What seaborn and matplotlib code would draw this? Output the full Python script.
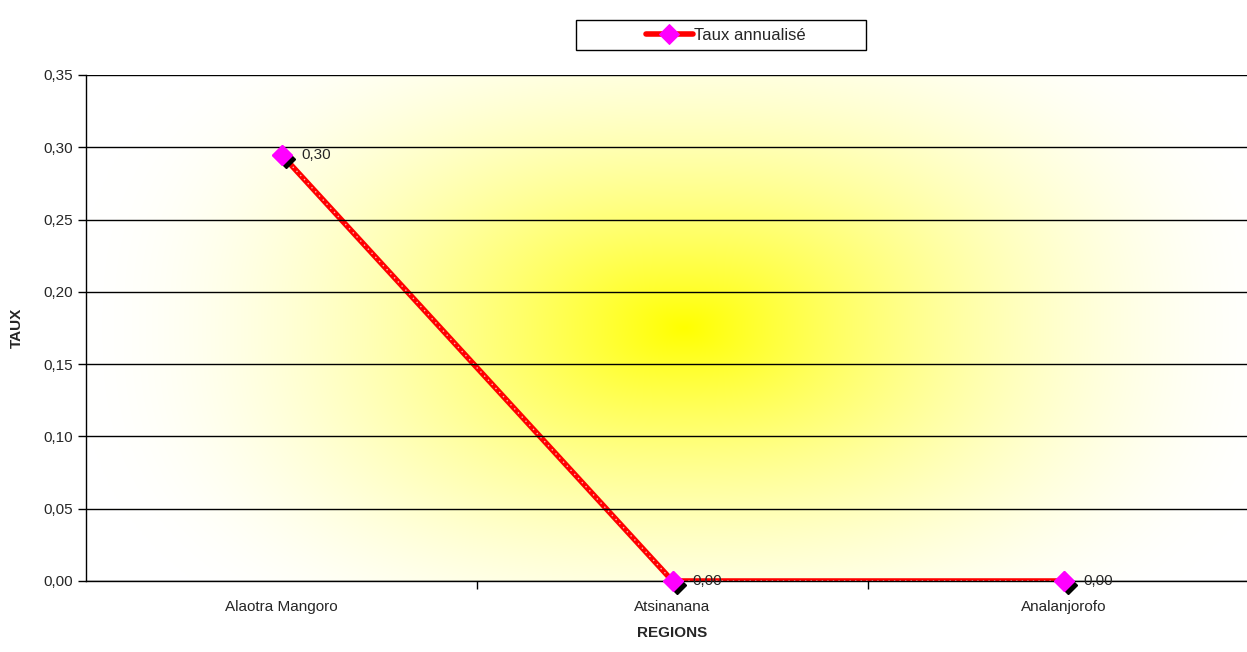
import numpy as np
import pandas as pd
import matplotlib
matplotlib.use("Agg")
import matplotlib.pyplot as plt
import seaborn as sns
from matplotlib.patches import Rectangle
from matplotlib.ticker import FixedLocator, FuncFormatter

# data
regions = ["Alaotra Mangoro", "Atsinanana", "Analanjorofo"]
taux = [0.295, 0.0, 0.0]
labels = ["0,30", "0,00", "0,00"]

df = pd.DataFrame({"REGIONS": regions, "TAUX": taux})

sns.set_style("white")
plt.rcParams["font.family"] = ["Liberation Sans Narrow", "Liberation Sans", "DejaVu Sans"]

fig = plt.figure(figsize=(12.47, 6.52), dpi=100)
ax = fig.add_axes([86 / 1247, 71 / 652, 1173 / 1247, 506 / 652])

# yellow glow behind the plot
gx, gy = np.meshgrid(np.linspace(-0.5, 2.5, 600), np.linspace(0, 0.35, 300))
dx = np.abs(gx - 1.03) / 1.55
dy = np.abs(gy - 0.175) / 0.25
r = (dx ** 2.5 + dy ** 2.5) ** (1 / 2.5)
t = np.clip(1 - r, 0, 1) ** 1.7
img = np.dstack([np.ones_like(t), np.ones_like(t), 1 - t])
ax.imshow(img, extent=[-0.5, 2.5, 0, 0.35], aspect="auto", origin="lower",
          zorder=0, interpolation="bilinear")

ax.set_xlim(-0.5, 2.5)
ax.set_ylim(0, 0.35)

xs = np.arange(len(regions))

# line (clipped at the axis like the original)
sns.lineplot(data=df, x=xs, y="TAUX", ax=ax, sort=False, color="red", lw=4,
             marker="D", markersize=10, markerfacecolor="#ff00ff",
             markeredgecolor="#ff00ff", zorder=2, label="Taux annualisé")
ax.plot(xs, taux, color="white", lw=1, ls=(0, (1, 3)), zorder=2.5, alpha=0.7)

# shadow markers + markers drawn unclipped
ax.plot(xs + 0.012, np.array(taux) - 0.003, ls="none", marker="D", ms=9,
        color="black", zorder=3, clip_on=False)
ax.plot(xs, taux, ls="none", marker="D", ms=10, color="#ff00ff", zorder=4,
        clip_on=False)

for x, y, t_ in zip(xs, taux, labels):
    ax.annotate(t_, (x, y), xytext=(14, 0), textcoords="offset points",
                fontsize=11, va="center", ha="left", zorder=6)

ax.yaxis.set_major_locator(FixedLocator(np.arange(0, 0.351, 0.05)))
ax.yaxis.set_major_formatter(FuncFormatter(lambda v, p: f"{v:.2f}".replace(".", ",")))
ax.grid(axis="y", color="black", lw=1)
ax.set_axisbelow(False)
for gl in ax.get_ygridlines():
    gl.set_zorder(1)

ax.set_xticks(xs)
ax.set_xticklabels(regions, fontsize=11)
ax.set_xticks([0.5, 1.5, 2.5], minor=True)
ax.tick_params(axis="x", which="major", length=0, pad=14)
ax.tick_params(axis="x", which="minor", length=6, width=1, color="black", direction="out", bottom=True)
ax.tick_params(axis="y", length=6, width=1, color="black", direction="out", left=True, labelsize=11)

for s in ["top", "right"]:
    ax.spines[s].set_visible(False)
for s in ["left", "bottom"]:
    ax.spines[s].set_color("black")
    ax.spines[s].set_linewidth(1)
    ax.spines[s].set_zorder(1.5)

ax.set_xlabel("REGIONS", fontsize=11, fontweight="bold", labelpad=8)
ax.set_ylabel("TAUX", fontsize=11, fontweight="bold", labelpad=14)

# legend inside a plain box
ax.get_legend().remove()
fig.patches.append(Rectangle((576 / 1247, 1 - 50 / 652), 290 / 1247, 30 / 652,
                             transform=fig.transFigure, fill=False,
                             edgecolor="black", lw=1))
h, l = ax.get_legend_handles_labels()
fig.legend(h, l, loc="center", bbox_to_anchor=(726 / 1247, 1 - 35 / 652),
           frameon=False, fontsize=12, handlelength=2.8, handletextpad=0.1,
           borderpad=0.2)

fig.savefig("out.png", dpi=100)
